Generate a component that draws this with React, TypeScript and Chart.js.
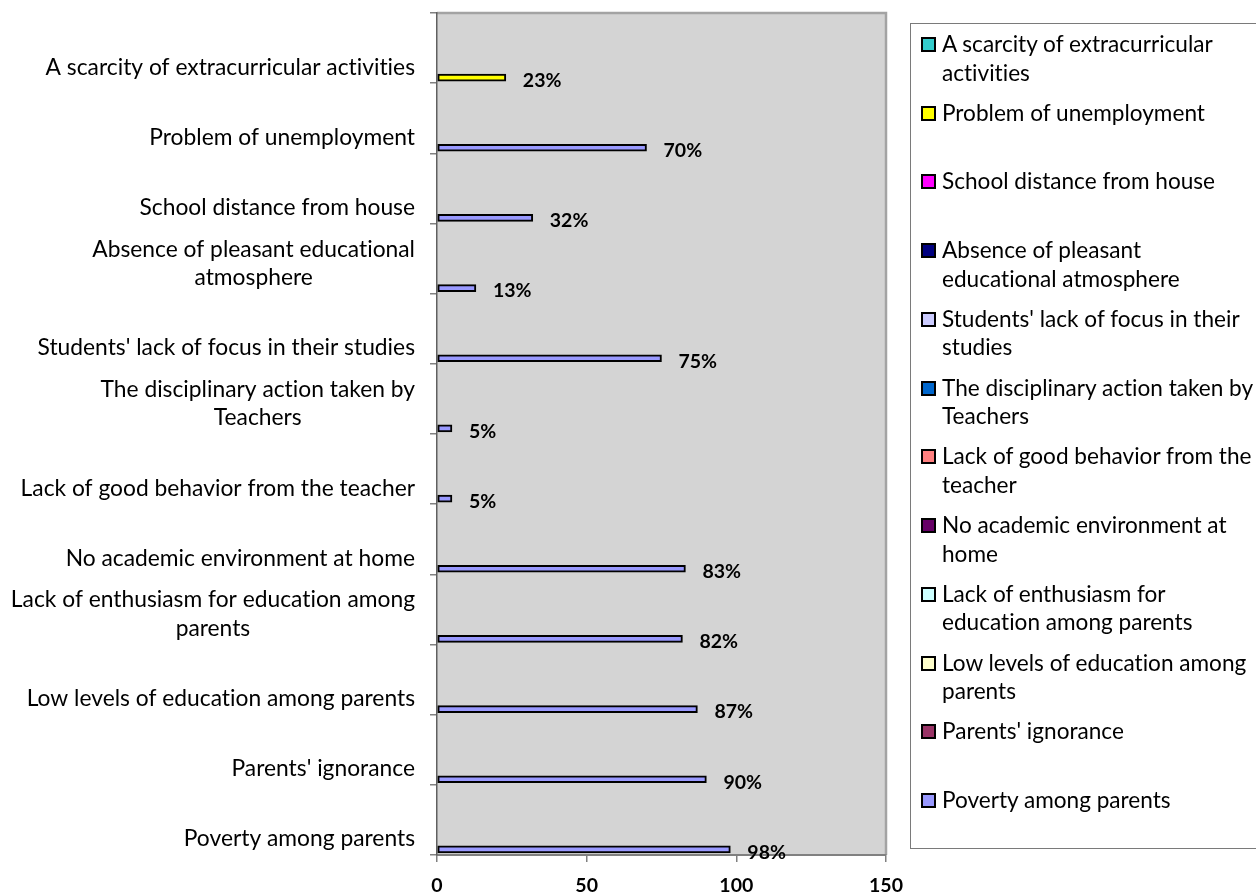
import React, { useEffect, useRef } from "react";
import { Chart, registerables } from "chart.js";

Chart.register(...registerables);

// Categories, top to bottom as shown in the chart
const categories = [
  "A scarcity of extracurricular activities",
  "Problem of unemployment",
  "School distance from house",
  "Absence of pleasant educational atmosphere",
  "Students' lack of focus in their studies",
  "The disciplinary action taken by Teachers",
  "Lack of good behavior from the teacher",
  "No academic environment at home",
  "Lack of enthusiasm for education among parents",
  "Low levels of education among parents",
  "Parents' ignorance",
  "Poverty among parents",
];

// How the axis labels wrap
const axisLabelLines = [
  ["A scarcity of extracurricular activities"],
  ["Problem of unemployment"],
  ["School distance from house"],
  ["Absence of pleasant educational", "atmosphere"],
  ["Students' lack of focus in their studies"],
  ["The disciplinary action taken by", "Teachers"],
  ["Lack of good behavior from the teacher"],
  ["No academic environment at home"],
  ["Lack of enthusiasm for education among", "parents"],
  ["Low levels of education among parents"],
  ["Parents' ignorance"],
  ["Poverty among parents"],
];

// How the legend entries wrap
const legendLines = [
  ["A scarcity of extracurricular", "activities"],
  ["Problem of unemployment"],
  ["School distance from house"],
  ["Absence of pleasant", "educational atmosphere"],
  ["Students' lack of focus in their", "studies"],
  ["The disciplinary action taken by", "Teachers"],
  ["Lack of good behavior from the", "teacher"],
  ["No academic environment at", "home"],
  ["Lack of enthusiasm for", "education among parents"],
  ["Low levels of education among", "parents"],
  ["Parents' ignorance"],
  ["Poverty among parents"],
];

const percentages = [23, 70, 32, 13, 75, 5, 5, 83, 82, 87, 90, 98];

const legendColors = [
  "#33CCCC",
  "#FFFF00",
  "#FF00FF",
  "#000080",
  "#CCCCFF",
  "#0066CC",
  "#FF8080",
  "#660066",
  "#CCFFFF",
  "#FFFFCC",
  "#993366",
  "#9999FF",
];

const barColors = [
  "#FFFF00",
  "#9999FF",
  "#9999FF",
  "#9999FF",
  "#9999FF",
  "#9999FF",
  "#9999FF",
  "#9999FF",
  "#9999FF",
  "#9999FF",
  "#9999FF",
  "#9999FF",
];

const xTicks = [0, 50, 100, 150];

const FONT = "Lato, 'Open Sans', sans-serif";
const BAR_POS = 0.08; // bar sits near the bottom of its band

export default function App() {
  const canvasRef = useRef<HTMLCanvasElement | null>(null);

  useEffect(() => {
    const canvas = canvasRef.current;
    if (!canvas) return;
    const n = categories.length;

    const plotBg = {
      id: "plotBg",
      beforeDraw(chart: any) {
        const { ctx, chartArea: a } = chart;
        ctx.save();
        ctx.fillStyle = "#D4D4D4";
        ctx.fillRect(a.left, a.top, a.right - a.left, a.bottom - a.top);
        ctx.strokeStyle = "#A3A3A3";
        ctx.lineWidth = 2.5;
        ctx.beginPath();
        ctx.moveTo(a.left, a.top);
        ctx.lineTo(a.right, a.top);
        ctx.lineTo(a.right, a.bottom);
        ctx.stroke();
        ctx.restore();
      },
    };

    const catLabels = {
      id: "catLabels",
      afterDraw(chart: any) {
        const { ctx } = chart;
        const ys = chart.scales.y;
        const right = chart.chartArea.left - 22;
        ctx.save();
        ctx.font = `22.8px ${FONT}`;
        try {
          (ctx as any).textRendering = "optimizeSpeed";
        } catch (e) {}
        ctx.fillStyle = "#000";
        ctx.textBaseline = "middle";
        ctx.textAlign = "center";
        axisLabelLines.forEach((lines, j) => {
          const bandBottom = ys.getPixelForValue(n - 1 - j);
          const w = Math.max(...lines.map((l) => ctx.measureText(l).width));
          const cx = right - w / 2;
          lines.forEach((l, k) => {
            const y = bandBottom - 16 - (lines.length - 1 - k) * 28.5;
            ctx.fillText(l, cx, y);
          });
        });
        ctx.restore();
      },
    };

    const valueLabels = {
      id: "valueLabels",
      afterDatasetsDraw(chart: any) {
        const { ctx } = chart;
        const meta = chart.getDatasetMeta(0);
        ctx.save();
        ctx.font = `bold 19.5px ${FONT}`;
        ctx.fillStyle = "#000";
        ctx.textBaseline = "middle";
        ctx.textAlign = "left";
        meta.data.forEach((bar: any, j: number) => {
          ctx.fillText(`${percentages[j]}%`, bar.x + 17, bar.y + 3);
        });
        ctx.restore();
      },
    };

    const chart = new Chart(canvas, {
      type: "bar",
      data: {
        datasets: [
          {
            label: "Percentage",
            data: percentages.map((v, j) => ({ x: v, y: n - 1 - j + BAR_POS })),
            backgroundColor: barColors,
            borderColor: "#000000",
            borderWidth: 2,
            borderSkipped: false,
            barThickness: 7,
          } as any,
        ],
      },
      options: {
        indexAxis: "y",
        responsive: false,
        animation: false,
        maintainAspectRatio: false,
        layout: { padding: { top: 13, right: 370, bottom: 0, left: 0 } },
        plugins: {
          legend: { display: false },
          tooltip: { enabled: false },
        },
        scales: {
          x: {
            type: "linear",
            min: xTicks[0],
            max: xTicks[xTicks.length - 1],
            afterBuildTicks: (s: any) => {
              s.ticks = xTicks.map((v) => ({ value: v }));
            },
            afterFit: (s: any) => {
              s.height = 41;
            },
            ticks: {
              color: "#000",
              font: { family: FONT, size: 19.5, weight: "bold" },
              padding: 12,
              maxRotation: 0,
              autoSkip: false,
            },
            grid: {
              drawOnChartArea: false,
              drawTicks: true,
              tickLength: 7,
              color: "#808080",
              lineWidth: 1.5,
            },
            border: { color: "#808080", width: 2 },
          },
          y: {
            type: "linear",
            offset: false,
            min: 0,
            max: n,
            afterBuildTicks: (s: any) => {
              s.ticks = categories.map((_, i) => ({ value: i })).concat([{ value: n }]);
            },
            afterFit: (s: any) => {
              s.width = 437;
            },
            ticks: {
              callback: () => "",
              autoSkip: false,
            },
            grid: {
              offset: false,
              drawOnChartArea: false,
              drawTicks: true,
              tickLength: 7,
              color: "#808080",
              lineWidth: 1.5,
            },
            border: { color: "#606060", width: 1.5 },
          },
        },
      },
      plugins: [plotBg, catLabels, valueLabels],
    } as any);

    return () => chart.destroy();
  }, []);

  return (
    <div
      style={{
        position: "fixed",
        left: 0,
        top: 0,
        width: 1256,
        height: 896,
        overflow: "hidden",
        background: "#fff",
      }}
    >
      <canvas ref={canvasRef} width={1256} height={896} style={{ position: "absolute", left: 0, top: 0 }} />
      <div
        style={{
          position: "absolute",
          left: 910,
          top: 23,
          width: 380,
          height: 826,
          border: "1.5px solid #7a7a7a",
          boxSizing: "border-box",
          fontFamily: FONT,
          fontSize: 22.6,
          fontVariantLigatures: "none",
          color: "#000",
        }}
      >
        {legendLines.map((lines, i) => (
          <div
            key={i}
            style={{
              position: "absolute",
              left: 0,
              top: 6 + i * 68.73,
              display: "flex",
              alignItems: "flex-start",
            }}
          >
            <div
              style={{
                width: 15,
                height: 15,
                boxSizing: "border-box",
                border: "2px solid #000",
                background: legendColors[i],
                marginLeft: 10,
                marginTop: 7,
                flex: "none",
              }}
            />
            <div style={{ marginLeft: 6, lineHeight: "28.5px", whiteSpace: "nowrap" }}>
              {lines.map((l, k) => (
                <div key={k}>{l}</div>
              ))}
            </div>
          </div>
        ))}
      </div>
    </div>
  );
}
